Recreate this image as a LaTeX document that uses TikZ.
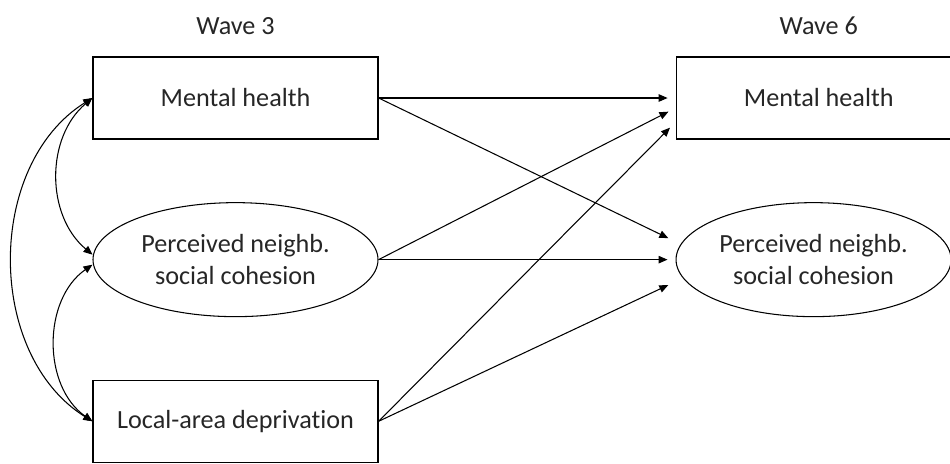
\documentclass[tikz,border=0pt]{standalone}
\usepackage{fontspec}
\setmainfont[Ligatures=NoCommon]{Carlito}
\usetikzlibrary{positioning, arrows.meta, shapes.geometric}

\begin{document}
\begin{tikzpicture}[
    var/.style={draw, line width=0.7pt, minimum width=5.7cm, minimum height=1.64cm,
      text=black!85, font=\fontsize{14.9}{18}\selectfont},
    latent/.style={draw, ellipse, line width=0.6pt, minimum width=5.7cm, minimum height=2.28cm,
      inner sep=0pt, align=center, text=black!85, font=\fontsize{14.9}{18.3}\selectfont},
    wave/.style={text=black!85, font=\fontsize{14.9}{18}\selectfont},
    path/.style={-{Triangle[length=1.8mm,width=1.5mm]}, line width=0.6pt, shorten >=1.6mm},
    cov/.style={{Triangle[length=1.8mm,width=1.5mm]}-{Triangle[length=1.8mm,width=1.5mm]}, line width=0.6pt},
    node distance=1.25cm,
  ]
    \useasboundingbox (0,0) rectangle (19,-9.26);
    \node[var] (mh3) at (4.71,-1.96) {Mental health};
    \node[latent, below=of mh3] (pnsc3) {Perceived neighb.\\ social cohesion};
    \node[var, below=of pnsc3] (lad3) {Local-area deprivation};
    \node[var, right=5.94cm of mh3] (mh6) {Mental health};
    \node[latent, minimum width=5.5cm, right=5.94cm of pnsc3] (pnsc6) {Perceived neighb.\\ social cohesion};
    \node[wave, above=0.3cm of mh3] (w3) {Wave 3};
    \node[wave, above=0.3cm of mh6] (w6) {Wave 6};
    % cross-lagged paths
    \draw[path] (mh3.east) -- (mh6.west);
    \draw[path] (mh3.east) -- ([yshift=0.36cm]pnsc6.west);
    \draw[path] (pnsc3.east) -- ([yshift=-0.2cm]mh6.west);
    \draw[path] (pnsc3.east) -- (pnsc6.west);
    \draw[path] (lad3.east) -- ([yshift=-0.48cm]mh6.west);
    \draw[path] (lad3.east) -- ([yshift=-0.44cm]pnsc6.west);
    % covariances
    \draw[cov] (mh3.west) to[bend right=50] ([yshift=1mm]pnsc3.west);
    \draw[cov] ([yshift=-1mm]pnsc3.west) to[bend right=55] (lad3.west);
    \draw[cov] (mh3.west) to[bend right=58] (lad3.west);
  \end{tikzpicture}
\end{document}
